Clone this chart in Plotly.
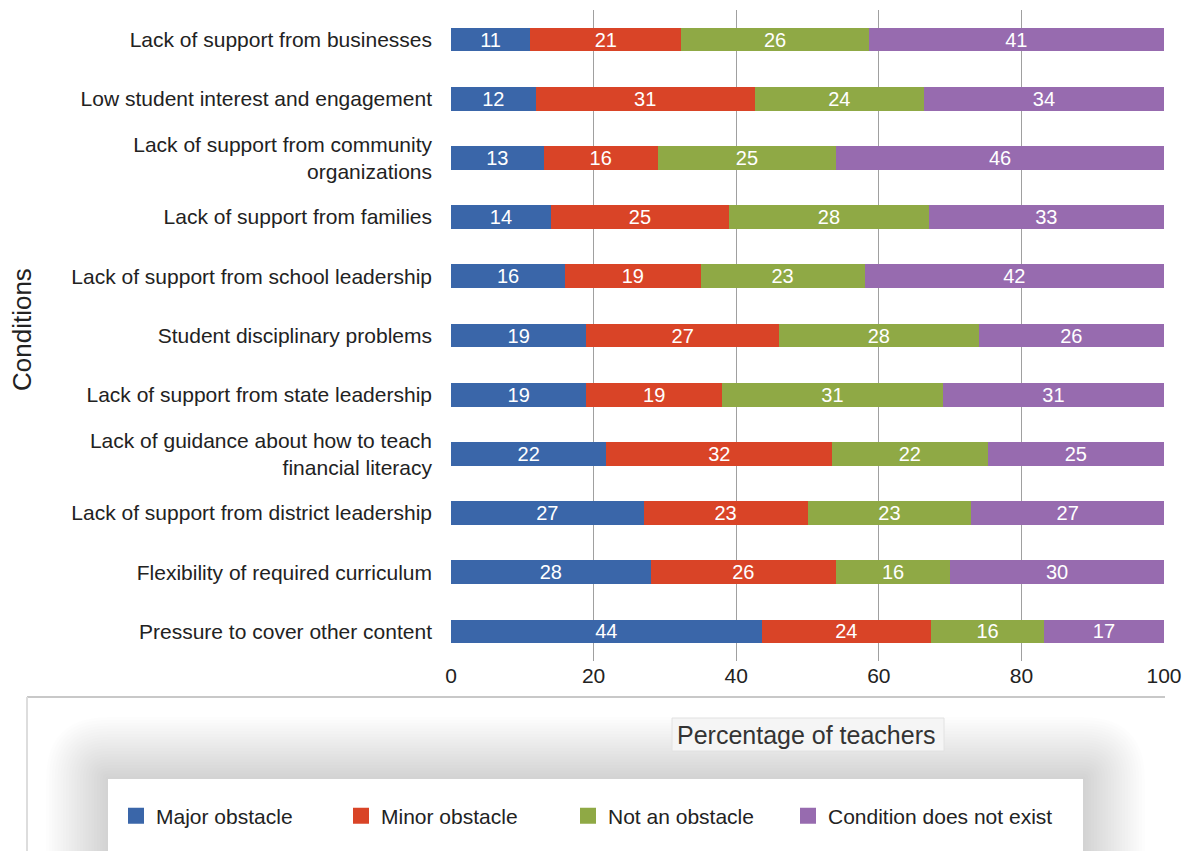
import plotly.graph_objects as go

conditions = [
    "Lack of support from businesses",
    "Low student interest and engagement",
    "Lack of support from community<br>organizations",
    "Lack of support from families",
    "Lack of support from school leadership",
    "Student disciplinary problems",
    "Lack of support from state leadership",
    "Lack of guidance about how to teach<br>financial literacy",
    "Lack of support from district leadership",
    "Flexibility of required curriculum",
    "Pressure to cover other content",
]
major = [11, 12, 13, 14, 16, 19, 19, 22, 27, 28, 44]
minor = [21, 31, 16, 25, 19, 27, 19, 32, 23, 26, 24]
not_obstacle = [26, 24, 25, 28, 23, 28, 31, 22, 23, 16, 16]
not_exist = [41, 34, 46, 33, 42, 26, 31, 25, 27, 30, 17]

series_names = ["Major obstacle", "Minor obstacle", "Not an obstacle", "Condition does not exist"]
series_values = [major, minor, not_obstacle, not_exist]
colors = ["#3A66A9", "#D94427", "#8FA945", "#976BAF"]

FONT = "Liberation Sans, Arial, sans-serif"

W, H = 1185, 851
# plot area in page pixel coordinates
L, R, T, B = 451, 1164, 10, 661


def px(x):
    return (x - L) / (R - L)


def py(y):
    return (B - y) / (B - T)


fig = go.Figure()
for name, vals, c in zip(series_names, series_values, colors):
    fig.add_trace(go.Bar(
        y=conditions, x=vals, name=name, orientation="h",
        marker=dict(color=c, line=dict(width=0)),
        text=[str(v) for v in vals], textposition="inside",
        insidetextanchor="middle", textangle=0, constraintext="none",
        textfont=dict(color="white", size=20, family=FONT),
        showlegend=False, width=0.4,
    ))

# legend entries, one legend each so they can be placed like the original
legend_keys = ["legend", "legend2", "legend3", "legend4"]
legend_left = [116, 341, 568, 788]
for name, c, key in zip(series_names, colors, legend_keys):
    fig.add_trace(go.Scatter(
        x=[None], y=[None], mode="markers", name=name,
        marker=dict(symbol="square", size=17, color=c),
        showlegend=True, legend=key,
    ))

shapes = []
# soft shadow around the legend (rounded layers)
N = 22
BX0, BX1, BY0 = 108, 1083, 779
ybot = py(H + 10)
for i in range(N):
    d = 62 * (1 - i / N)
    x0, x1, yt = BX0 - d, BX1 + d, BY0 - d
    rr = d
    path = (
        f"M {px(x0)},{ybot} L {px(x0)},{py(yt + rr)} "
        f"Q {px(x0)},{py(yt)} {px(x0 + rr)},{py(yt)} "
        f"L {px(x1 - rr)},{py(yt)} "
        f"Q {px(x1)},{py(yt)} {px(x1)},{py(yt + rr)} "
        f"L {px(x1)},{ybot} Z"
    )
    shapes.append(dict(type="path", xref="paper", yref="paper", path=path,
                       fillcolor="rgba(0,0,0,0.0065)", line=dict(width=0), layer="below"))
# white legend box
shapes.append(dict(type="rect", xref="paper", yref="paper",
                   x0=px(BX0), x1=px(BX1), y0=py(H + 10), y1=py(BY0),
                   fillcolor="white", line=dict(width=0), layer="below"))
# axis title box
shapes.append(dict(type="rect", xref="paper", yref="paper",
                   x0=px(672), x1=px(944), y0=py(751), y1=py(718),
                   fillcolor="#F5F5F5", line=dict(width=1, color="#E2E2E2"), layer="below"))
# frame lines
shapes.append(dict(type="line", xref="paper", yref="paper",
                   x0=px(27), x1=px(1165), y0=py(697), y1=py(697),
                   line=dict(color="#C8C8C8", width=2)))
shapes.append(dict(type="line", xref="paper", yref="paper",
                   x0=px(27), x1=px(27), y0=py(697), y1=py(H + 10),
                   line=dict(color="#DDDDDD", width=2)))

annotations = [
    dict(text="Conditions", xref="paper", yref="paper", x=px(22), y=py(330),
         textangle=-90, showarrow=False, xanchor="center", yanchor="middle",
         font=dict(size=26, color="#222222", family=FONT)),
    dict(text="Percentage of teachers", xref="paper", yref="paper", x=px(806), y=py(735),
         showarrow=False, xanchor="center", yanchor="middle",
         font=dict(size=25, color="#333333", family=FONT)),
]

legend_common = dict(orientation="h", yanchor="middle", xanchor="left", y=py(816),
                     bgcolor="rgba(0,0,0,0)", font=dict(size=21, color="#222222"),
                     itemsizing="trace")
legends = {key: dict(legend_common, x=px(lx)) for key, lx in zip(legend_keys, legend_left)}

fig.update_layout(
    width=W, height=H, autosize=False,
    margin=dict(l=L, r=W - R, t=T, b=H - B, autoexpand=False),
    barmode="stack", barnorm="percent",
    plot_bgcolor="white", paper_bgcolor="white",
    font=dict(family=FONT, size=21, color="#222222"),
    xaxis=dict(range=[0, 100], tickvals=[0, 20, 40, 60, 80, 100],
               showgrid=True, gridcolor="#A0A0A0", gridwidth=1, zeroline=False,
               showline=False, ticks="", tickfont=dict(size=21, color="#222222"),
               fixedrange=True, automargin=False, ticklabeloverflow="allow"),
    yaxis=dict(categoryorder="array", categoryarray=conditions, autorange="reversed",
               showgrid=False, showline=False, ticks="", ticklabelstandoff=18,
               tickfont=dict(size=21, color="#222222"), fixedrange=True,
               automargin=False),
    shapes=shapes, annotations=annotations,
    **legends,
)

# remove the default page margin so the figure starts at the window corner
fig.write_html(
    "out.html",
    config={"responsive": False, "displayModeBar": False},
    post_script="document.body.style.margin='0';document.body.style.overflow='hidden';",
)
